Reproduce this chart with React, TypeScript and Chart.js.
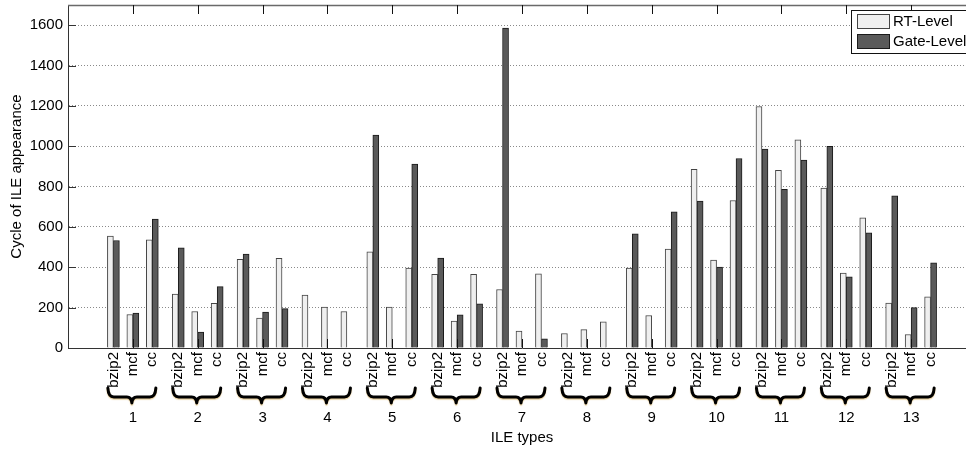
import React, { useEffect, useRef } from 'react';
import { Chart, registerables } from 'chart.js';

Chart.register(...registerables);

// ---------- data ----------
const GROUPS = ['1', '2', '3', '4', '5', '6', '7', '8', '9', '10', '11', '12', '13'];
const BENCHMARKS = ['bzip2', 'mcf', 'cc'];
const SERIES = ['RT-Level', 'Gate-Level'];
const Y_TICKS = [0, 200, 400, 600, 800, 1000, 1200, 1400, 1600];

// order: group 1 (bzip2, mcf, cc), group 2 (...), ...
const RT_LEVEL = [
  555, 166, 536,
  267, 181, 221,
  439, 148, 444,
  262, 203, 181,
  477, 203, 396,
  365, 134, 365,
  290, 84, 368,
  72, 91, 130,
  396, 161, 490,
  885, 436, 731,
  1197, 880, 1032,
  792, 371, 645,
  223, 67, 253,
];
const GATE_LEVEL = [
  533, 173, 639,
  497, 79, 304,
  465, 178, 195,
  null, null, null,
  1055, null, 911,
  446, 165, 219,
  1585, null, 45,
  null, null, null,
  566, null, 675,
  728, 401, 939,
  986, 786, 931,
  999, 353, 571,
  754, 200, 422,
];

// ---------- layout constants ----------
const FONT = "'Liberation Sans', Arial, Helvetica, sans-serif";
const SUB_STEP = 0.3; // spacing between benchmarks inside a group (axis units)
const CANVAS_W = 980;
const CANVAS_H = 450;

const xPos = (i: number) => Math.floor(i / BENCHMARKS.length) + 1 + ((i % BENCHMARKS.length) - 1) * SUB_STEP;

const extrasPlugin = {
  id: 'matlabExtras',
  afterDatasetsDraw(chart: any) {
    const { ctx, chartArea, scales } = chart;
    const xs = scales.x;
    const ys = scales.y;
    const { left, right, top, bottom } = chartArea;
    ctx.save();

    // box top / right
    ctx.strokeStyle = '#6a6a6a';
    ctx.lineWidth = 1.5;
    ctx.beginPath();
    ctx.moveTo(left, top + 0.5);
    ctx.lineTo(right, top + 0.5);
    ctx.moveTo(right - 0.5, top);
    ctx.lineTo(right - 0.5, bottom);
    ctx.stroke();

    // inward y ticks
    ctx.strokeStyle = '#333';
    ctx.lineWidth = 1;
    ctx.beginPath();
    Y_TICKS.forEach((v) => {
      const y = Math.round(ys.getPixelForValue(v)) + 0.5;
      ctx.moveTo(left, y);
      ctx.lineTo(left + 8, y);
      ctx.moveTo(right, y);
      ctx.lineTo(right - 8, y);
    });
    ctx.stroke();

    // inward x ticks at group centres
    ctx.strokeStyle = '#111';
    ctx.beginPath();
    GROUPS.forEach((_, k) => {
      const x = Math.round(xs.getPixelForValue(k + 1)) + 0.5;
      ctx.moveTo(x, bottom);
      ctx.lineTo(x, bottom - 9);
      ctx.moveTo(x, top);
      ctx.lineTo(x, top + 9);
    });
    ctx.stroke();

    // braces + group numbers
    const yTop = 388;
    const yTip = 403;
    const yMid = 397;
    GROUPS.forEach((g, k) => {
      const xc = xs.getPixelForValue(k + 1) - 1;
      const xl = xc - 24;
      const xr = xc + 24;
      ctx.save();
      ctx.shadowColor = 'rgba(210,160,60,0.5)';
      ctx.shadowOffsetY = 1.2;
      ctx.shadowBlur = 1;
      ctx.strokeStyle = '#000';
      ctx.lineWidth = 3;
      ctx.lineJoin = 'round';
      ctx.lineCap = 'round';
      ctx.beginPath();
      ctx.moveTo(xl, yTop);
      ctx.quadraticCurveTo(xl + 0.5, yMid, xl + 6, yMid);
      ctx.lineTo(xc - 5, yMid);
      ctx.quadraticCurveTo(xc - 0.5, yMid, xc, yTip);
      ctx.quadraticCurveTo(xc + 0.5, yMid, xc + 5, yMid);
      ctx.lineTo(xr - 6, yMid);
      ctx.quadraticCurveTo(xr - 0.5, yMid, xr, yTop);
      ctx.stroke();
      ctx.restore();

      ctx.fillStyle = '#000';
      ctx.font = `15px ${FONT}`;
      ctx.textAlign = 'center';
      ctx.textBaseline = 'middle';
      ctx.fillText(g, xs.getPixelForValue(k + 1), 418);
    });

    // legend
    const ds = chart.data.datasets;
    const lx = 851.5;
    const ly = 10.5;
    ctx.fillStyle = '#fff';
    ctx.fillRect(lx, ly, 200, 43);
    ctx.strokeStyle = '#111';
    ctx.lineWidth = 1;
    ctx.strokeRect(lx, ly, 200, 43);
    ds.forEach((d: any, i: number) => {
      const sy = 14.5 + i * 20;
      ctx.fillStyle = d.backgroundColor;
      ctx.fillRect(857.5, sy, 32, 14);
      ctx.strokeStyle = d.borderColor;
      ctx.strokeRect(857.5, sy, 32, 14);
      ctx.fillStyle = '#000';
      ctx.font = `15px ${FONT}`;
      ctx.textAlign = 'left';
      ctx.textBaseline = 'middle';
      ctx.fillText(d.label, 893, sy + 7.5);
    });

    ctx.restore();
  },
};

export default function App() {
  const ref = useRef<HTMLCanvasElement | null>(null);

  useEffect(() => {
    if (!ref.current) return;
    const chart = new Chart(ref.current, {
      type: 'bar',
      data: {
        datasets: [
          {
            label: SERIES[0],
            data: RT_LEVEL.map((v, i) => ({ x: xPos(i), y: v })),
            backgroundColor: '#efefef',
            borderColor: '#444',
            borderWidth: 1,
            barThickness: 6,
          },
          {
            label: SERIES[1],
            data: GATE_LEVEL.map((v, i) => ({ x: xPos(i), y: v })),
            backgroundColor: '#5a5a5a',
            borderColor: '#1a1a1a',
            borderWidth: 1,
            barThickness: 6,
          },
        ] as any,
      },
      options: {
        animation: false,
        responsive: false,
        devicePixelRatio: 1,
        layout: { padding: { top: 5, right: 4, left: 0, bottom: 0 } },
        plugins: { legend: { display: false }, tooltip: { enabled: false } },
        scales: {
          x: {
            type: 'linear',
            min: 0,
            max: 14,
            offset: false,
            grid: { display: false, drawTicks: false, offset: false },
            border: { display: true, color: '#333', width: 1 },
            afterBuildTicks: (s: any) => {
              s.ticks = RT_LEVEL.map((_, i) => ({ value: xPos(i) }));
            },
            afterFit: (s: any) => {
              s.height = 102;
              s.paddingLeft = 0;
              s.paddingRight = 0;
            },
            ticks: {
              autoSkip: false,
              minRotation: 90,
              maxRotation: 90,
              padding: 4,
              color: '#000',
              font: { family: FONT, size: 15 },
              callback: (_v: any, i: number) => BENCHMARKS[i % BENCHMARKS.length],
            },
            title: {
              display: true,
              text: 'ILE types',
              color: '#000',
              font: { family: FONT, size: 15 },
              padding: { top: 0, bottom: 3 },
            },
          } as any,
          y: {
            min: 0,
            max: 1700,
            afterBuildTicks: (s: any) => {
              s.ticks = Y_TICKS.map((v) => ({ value: v }));
            },
            afterFit: (s: any) => {
              s.width = 68;
              s.paddingTop = 0;
              s.paddingBottom = 0;
            },
            grid: {
              color: (c: any) => (c.tick && c.tick.value === 0 ? 'rgba(0,0,0,0)' : '#8a8a8a'),
              drawTicks: false,
              lineWidth: 1,
            },
            border: { display: true, color: '#333', width: 1, dash: [1, 2] },
            ticks: {
              padding: 5,
              color: '#000',
              font: { family: FONT, size: 15 },
              callback: (v: any) => String(v),
            },
            title: {
              display: true,
              text: 'Cycle of ILE appearance',
              color: '#000',
              font: { family: FONT, size: 15 },
              padding: { top: 8, bottom: 0 },
            },
          } as any,
        },
      },
      plugins: [extrasPlugin],
    });
    return () => chart.destroy();
  }, []);

  return (
    <div
      style={{
        position: 'absolute',
        left: 0,
        top: 0,
        width: 966,
        height: 450,
        overflow: 'hidden',
        background: '#fff',
      }}
    >
      <canvas ref={ref} width={CANVAS_W} height={CANVAS_H} style={{ display: 'block' }} />
    </div>
  );
}
